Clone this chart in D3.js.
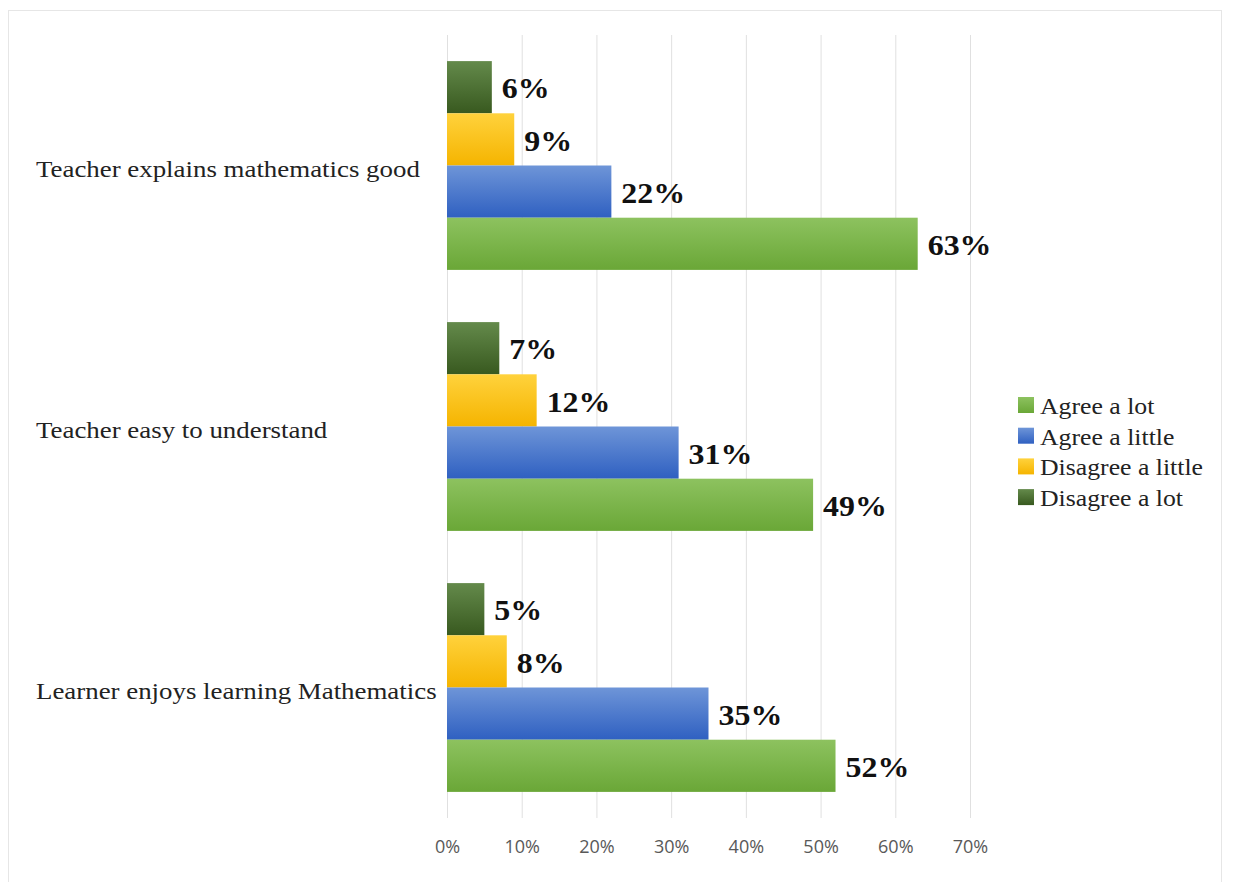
<!DOCTYPE html>
<html>
<head>
<meta charset="utf-8">
<script src="https://cdn.jsdelivr.net/npm/d3@7"></script>
<style>
  body { margin: 0; background: #fff; }
</style>
</head>
<body>
<div id="chart"></div>
<script>
const WIDTH = 1235, HEIGHT = 882;

// data
const categories = ["Teacher explains mathematics good", "Teacher easy to understand", "Learner enjoys learning Mathematics"];
const series = ["Disagree a lot", "Disagree a little", "Agree a little", "Agree a lot"];
const disagreeLot = [6, 7, 5];
const disagreeLittle = [9, 12, 8];
const agreeLittle = [22, 31, 35];
const agreeLot = [63, 49, 52];
const ticks = [0, 10, 20, 30, 40, 50, 60, 70];
const legendOrder = ["Agree a lot", "Agree a little", "Disagree a little", "Disagree a lot"];

const values = {
    "Disagree a lot": disagreeLot,
    "Disagree a little": disagreeLittle,
    "Agree a little": agreeLittle,
    "Agree a lot": agreeLot
};
const colors = {
    "Agree a lot": ["#8dc25f", "#6aa737"],
    "Agree a little": ["#6e95d8", "#2f60c1"],
    "Disagree a little": ["#ffd23c", "#f5b400"],
    "Disagree a lot": ["#648a4b", "#38591f"]
};

const SERIF = "'Liberation Serif', 'DejaVu Serif', serif";
const SX = 1.12; // text in the picture is a bit stretched sideways

const svg = d3.select("#chart").append("svg")
    .attr("width", WIDTH)
    .attr("height", HEIGHT);

// faint frame
svg.append("rect")
    .attr("x", 8.5).attr("y", 10.5)
    .attr("width", 1213).attr("height", 880)
    .attr("fill", "none")
    .attr("stroke", "#e6e6e6");

const defs = svg.append("defs");
series.forEach((s, i) => {
    const g = defs.append("linearGradient")
        .attr("id", "grad" + i)
        .attr("x1", 0).attr("y1", 0).attr("x2", 0).attr("y2", 1);
    g.append("stop").attr("offset", "0%").attr("stop-color", colors[s][0]);
    g.append("stop").attr("offset", "100%").attr("stop-color", colors[s][1]);
});

const x = d3.scaleLinear().domain([0, 70]).range([447, 970]);
const y0 = d3.scaleBand().domain(categories).range([35, 818])
    .paddingInner(0.2).paddingOuter(0.1);
const y1 = d3.scaleBand().domain(series).range([0, y0.bandwidth()]);

// grid lines
svg.append("g").selectAll("line")
    .data(ticks)
    .join("line")
    .attr("x1", d => x(d) + 0.5).attr("x2", d => x(d) + 0.5)
    .attr("y1", 35).attr("y2", 818)
    .attr("stroke", "#e0e0e0")
    .attr("stroke-width", 1);

// x axis labels
const xAxis = d3.axisBottom(x).tickValues(ticks).tickFormat(d => d + "%").tickSize(0);
svg.append("g")
    .attr("transform", "translate(0,837)")
    .call(xAxis)
    .call(g => g.select(".domain").remove())
    .call(g => g.selectAll("text")
        .attr("fill", "#595959")
        .style("font-family", "'Open Sans', 'DejaVu Sans', sans-serif")
        .style("font-size", "18px"));

// category labels
svg.append("g").selectAll("text")
    .data(categories)
    .join("text")
    .attr("transform", d => `translate(36,${y0(d) + y0.bandwidth() / 2 + 3}) scale(${SX},1)`)
    .attr("dy", "0.35em")
    .style("font-family", SERIF)
    .style("font-size", "24px")
    .attr("fill", "#222")
    .text(d => d);

// bars
const groups = svg.append("g").selectAll("g")
    .data(categories)
    .join("g")
    .attr("transform", d => `translate(0,${y0(d)})`);

groups.selectAll("rect")
    .data((c, ci) => series.map((s, si) => ({ s, si, v: values[s][ci] })))
    .join("rect")
    .attr("x", x(0))
    .attr("y", d => y1(d.s))
    .attr("width", d => x(d.v) - x(0))
    .attr("height", y1.bandwidth())
    .attr("fill", d => `url(#grad${d.si})`);

groups.selectAll("text")
    .data((c, ci) => series.map((s, si) => ({ s, si, v: values[s][ci] })))
    .join("text")
    .attr("transform", d => `translate(${x(d.v) + 10},${y1(d.s) + y1.bandwidth() / 2 + 1}) scale(1.1,1)`)
    .attr("dy", "0.35em")
    .style("font-family", SERIF)
    .style("font-size", "29px")
    .style("font-weight", "bold")
    .attr("fill", "#111")
    .text(d => d.v + "%");

// legend
const legend = svg.append("g").attr("transform", "translate(1018,405)");
const items = legend.selectAll("g")
    .data(legendOrder)
    .join("g")
    .attr("transform", (d, i) => `translate(0,${i * 30.7})`);
items.append("rect")
    .attr("x", 0).attr("y", -8)
    .attr("width", 16).attr("height", 16)
    .attr("fill", d => `url(#grad${series.indexOf(d)})`);
items.append("text")
    .attr("transform", `translate(22,1) scale(${SX},1)`)
    .attr("dy", "0.35em")
    .style("font-family", SERIF)
    .style("font-size", "23px")
    .attr("fill", "#222")
    .text(d => d);
</script>
</body>
</html>
